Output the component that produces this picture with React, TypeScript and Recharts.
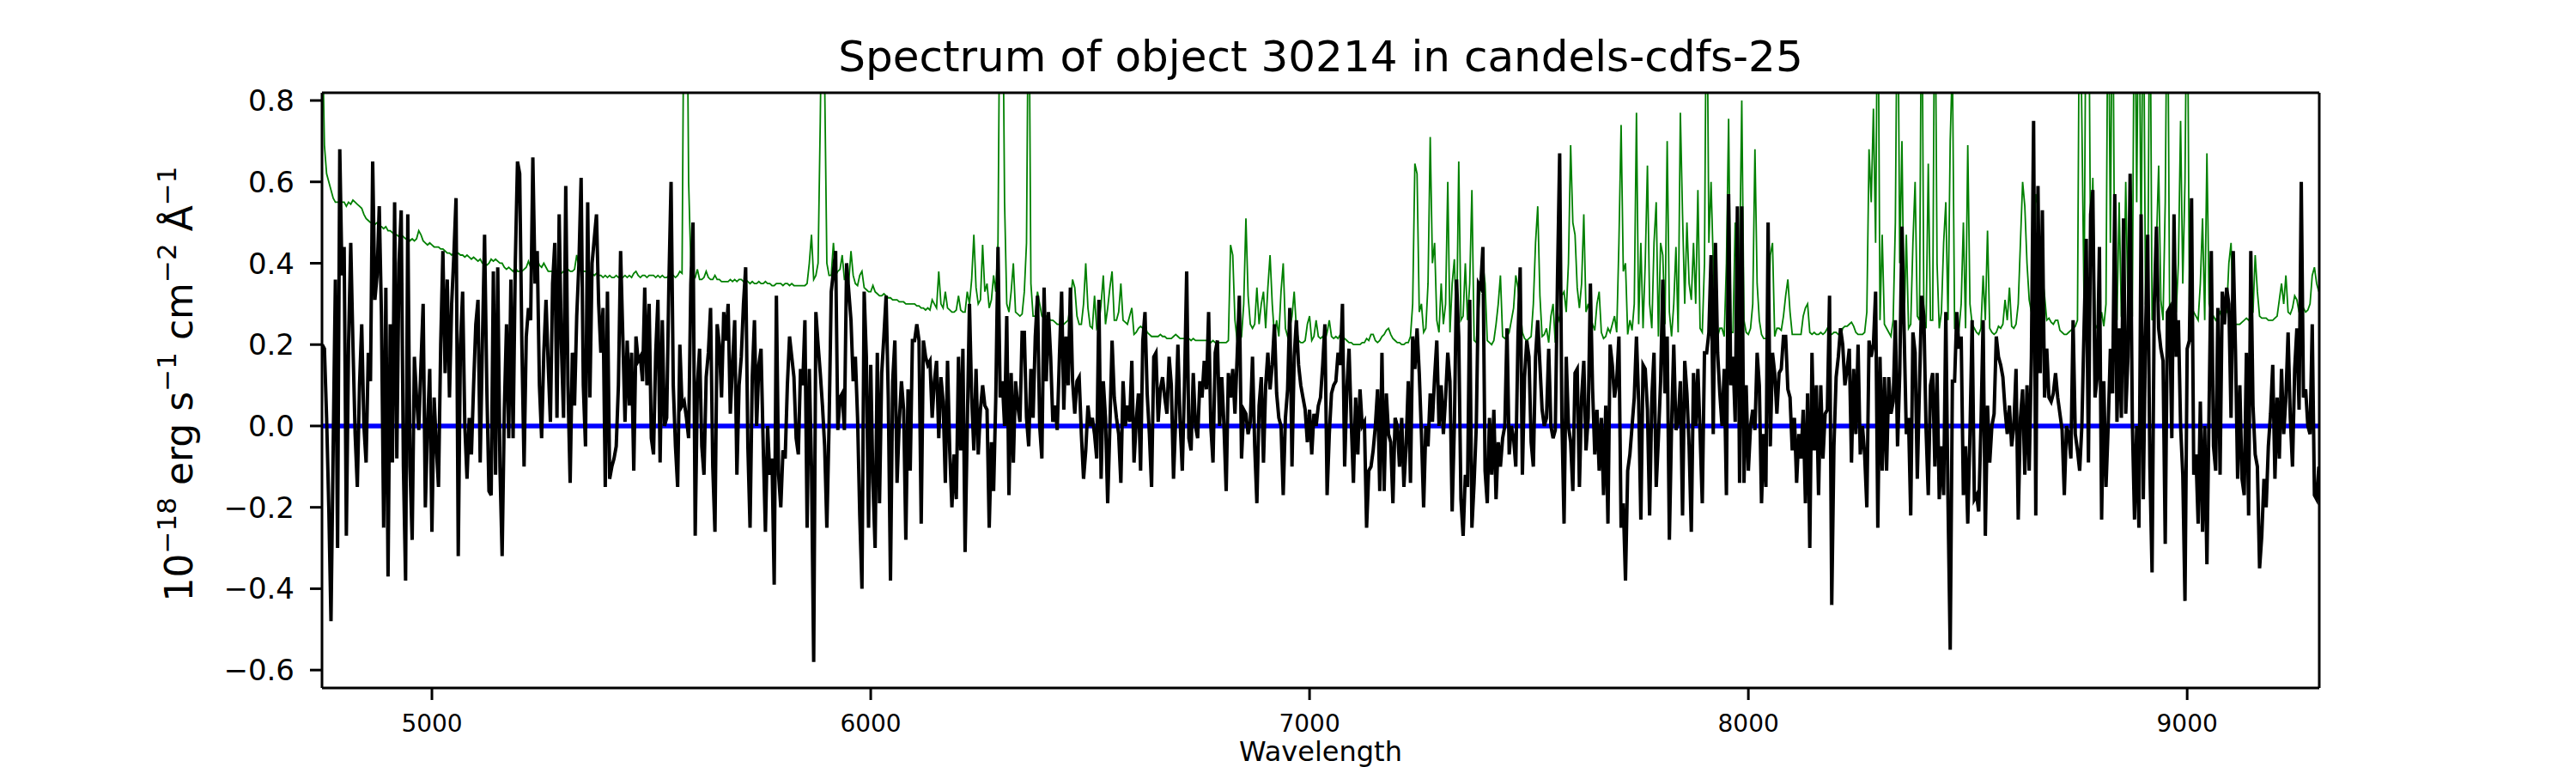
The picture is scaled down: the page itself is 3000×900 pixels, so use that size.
import { LineChart, Line, XAxis, YAxis, ReferenceLine } from 'recharts';

// spectrum is sampled on a regular grid, 5 Å per pixel from 4750 Å
const WAVE_START = 4750;
const WAVE_STEP = 5;

// observed flux, 1e-18 erg/s/cm2/Å
const FLUX = [
  0.20, 0.19, 0.02, -0.20, -0.48, -0.05, 0.36, -0.30, 0.68, 0.37,
  0.44, -0.27, 0.20, 0.45, 0.20, -0.02, -0.15, 0.10, 0.25, 0.00,
  -0.09, 0.18, 0.11, 0.65, 0.31, 0.37, 0.54, 0.27, -0.25, 0.34,
  -0.37, 0.25, -0.09, 0.55, -0.08, 0.40, 0.53, -0.10, -0.38, 0.52,
  -0.10, -0.28, 0.17, 0.07, -0.01, 0.15, 0.30, -0.20, 0.00, 0.14,
  -0.26, 0.07, -0.05, -0.15, 0.20, 0.43, 0.13, 0.36, 0.07, 0.30,
  0.42, 0.56, -0.32, 0.20, 0.33, 0.00, -0.13, 0.02, -0.07, 0.10,
  0.25, 0.31, -0.09, 0.20, 0.47, 0.10, -0.16, -0.17, 0.38, -0.12,
  0.39, -0.10, -0.32, 0.04, 0.25, -0.03, 0.36, -0.03, 0.40, 0.65,
  0.62, 0.20, -0.10, 0.22, 0.29, 0.26, 0.66, 0.35, 0.43, 0.10,
  -0.03, 0.18, 0.31, 0.15, 0.01, 0.35, 0.45, 0.02, 0.52, 0.20,
  0.02, 0.59, 0.10, -0.14, 0.18, 0.05, 0.27, 0.40, 0.61, 0.10,
  -0.05, 0.55, 0.07, 0.40, 0.46, 0.52, 0.30, 0.18, 0.29, -0.15,
  0.33, -0.13, -0.10, -0.08, -0.05, 0.10, 0.43, 0.22, 0.01, 0.21,
  0.05, 0.18, -0.11, 0.22, 0.16, 0.17, 0.11, 0.34, 0.10, 0.30,
  -0.03, -0.07, 0.18, 0.31, -0.09, 0.26, 0.00, 0.02, 0.35, 0.60,
  0.10, -0.05, -0.15, 0.20, 0.05, 0.06, 0.02, -0.03, 0.35, 0.50,
  -0.27, 0.10, 0.19, -0.05, -0.12, 0.12, 0.18, 0.29, -0.10, -0.26,
  0.25, 0.20, 0.07, 0.28, 0.21, 0.30, 0.03, 0.15, 0.26, -0.12,
  0.10, 0.17, 0.30, 0.39, -0.05, -0.25, 0.12, 0.26, 0.00, 0.15,
  0.19, -0.05, -0.26, 0.00, -0.12, -0.08, -0.39, 0.32, -0.12, -0.20,
  -0.06, -0.08, 0.10, 0.22, 0.17, 0.12, -0.03, -0.07, 0.14, 0.10,
  0.26, -0.25, 0.14, -0.10, -0.58, 0.28, 0.20, 0.13, 0.05, -0.05,
  -0.25, 0.00, 0.33,
  // 5915 Å
  0.38, 0.43, -0.01, 0.07, 0.08, -0.01, 0.40, 0.33, 0.26, 0.11,
  0.17, 0.02, -0.22, -0.40, 0.33, 0.17, -0.25, 0.15, -0.14, -0.30,
  0.18, -0.19, 0.13, 0.22, 0.32, 0.07, -0.38, 0.11, 0.21, -0.14,
  0.01, 0.11, 0.04, -0.28, 0.09, -0.11, 0.21, 0.21, 0.25, 0.21,
  -0.24, 0.21, 0.17, 0.15, 0.16, 0.02, 0.11, 0.16, -0.03, 0.12,
  0.06, -0.14, 0.16, -0.06, -0.20, -0.07, -0.18, 0.17, -0.06, 0.19,
  -0.31, 0.00, 0.30, 0.07, -0.06, 0.14, -0.07, 0.04, 0.10,
  0.05, 0.04, -0.25, -0.04, -0.16, 0.07, 0.44, 0.07, 0.11, 0.00,
  0.27, -0.17, 0.13, -0.09, 0.11, 0.05, 0.01, 0.23, 0.23, 0.02,
  -0.05, 0.14, 0.02, 0.22, 0.32, 0.00, -0.08, 0.34, 0.11, 0.28,
  0.17, 0.01, 0.05, -0.01, 0.17, 0.33, 0.04, 0.22, 0.10, 0.34,
  0.11, 0.03, 0.11, 0.12, -0.02, -0.13, -0.06, 0.05, 0.00, 0.02,
  -0.02, -0.08, 0.31, -0.13, 0.11, 0.02, -0.19, 0.00, 0.21, 0.07,
  0.02, -0.02, -0.14, 0.11, 0.00, 0.05, 0.01, 0.16, -0.09, 0.01, 0.08,
  -0.11, 0.21, 0.28, 0.08, -0.02, -0.15, 0.17, 0.18, 0.01, 0.09,
  0.12, 0.07, 0.03, 0.17, 0.10, -0.13, 0.02, 0.20, 0.01, -0.11,
  0.10, 0.38, -0.03, -0.06, 0.13, 0.00, -0.03, 0.11, 0.07, 0.16,
  0.09, 0.28, 0.00, -0.09, 0.18, 0.21, 0.00, 0.12, 0.00, -0.16,
  0.13, 0.07, 0.14, 0.03, 0.17, 0.32, -0.08, 0.04, 0.03, -0.02,
  0.01, 0.17, -0.05, -0.19, 0.05, 0.12, -0.09, 0.10, 0.18, 0.09, 0.15,
  0.25, 0.08, 0.02, 0.00, -0.17, 0.02, 0.09, 0.29, -0.10, 0.17,
  0.26, 0.15, 0.10, 0.07, 0.04, -0.04, 0.04, -0.07, 0.03, 0.00,
  0.05, 0.07, 0.15, 0.25, -0.17, -0.02, 0.08, 0.10, 0.11,
  // 7065 Å
  0.18, 0.15, 0.30, -0.10, 0.09, 0.19, 0.01, -0.14, 0.07, -0.07,
  0.09, 0.00, 0.01, -0.25, -0.11, -0.10, -0.06, 0.00, 0.09, -0.16,
  0.18, -0.16, 0.08, -0.02, -0.04, -0.19, 0.02, 0.00, -0.10, 0.02,
  -0.15, -0.05, 0.11, -0.14, 0.22, 0.14, 0.24, 0.13, -0.02, -0.20,
  0.00, -0.05, 0.08, 0.01, 0.12, 0.21, 0.00, 0.10, -0.02, 0.07,
  0.18, 0.11, -0.21, 0.00, 0.36, 0.22, -0.18, -0.27, -0.12, -0.15,
  0.31, -0.25, -0.14, 0.00, 0.35, 0.34, 0.44, -0.11, -0.19, 0.02,
  -0.12, 0.04, -0.18, -0.04, -0.10, -0.03, 0.00, 0.24, -0.07, 0.00,
  -0.03, -0.10, 0.22, 0.39, -0.12, 0.12, 0.21, 0.17, -0.04, -0.10,
  0.17, 0.26, 0.15, 0.04, 0.00, 0.02, 0.19, 0.00, -0.03, -0.01,
  0.36, 0.67, 0.02, -0.24, 0.17, 0.00, -0.04, -0.16, 0.13, 0.14,
  -0.15, 0.07, 0.16, -0.06, 0.02, 0.35, 0.09, -0.07, 0.04, -0.11,
  0.02, -0.17, 0.05, -0.24, 0.20, 0.15, 0.07, 0.11, 0.22, -0.25,
  -0.19, -0.38, -0.11, -0.07, 0.00, 0.07, 0.22, 0.06, -0.23, 0.15,
  0.14, 0.04, -0.22, 0.07, 0.18, -0.15, -0.03, 0.11, 0.36, 0.08,
  0.22, -0.28, 0.00, 0.20, -0.01, 0.01, 0.11, -0.22, 0.16, 0.08,
  -0.05, -0.26, 0.13, 0.00, 0.14, -0.02, -0.19, 0.18, 0.18, 0.23,
  0.42, -0.02, 0.45, 0.18, 0.08, 0.00, 0.14, -0.17, 0.57, 0.10,
  0.17, 0.01, 0.54, -0.14, 0.54, -0.14, 0.10, -0.11, 0.00, 0.04,
  -0.01, 0.18, 0.10, -0.19, -0.02, -0.15, 0.50, -0.05, 0.18, 0.13,
  0.03, 0.13, 0.14, 0.22, 0.22, 0.09, 0.07, -0.06, 0.02, -0.14,
  -0.02, -0.08, 0.04, -0.19, 0.08, -0.30, 0.18, -0.06, 0.10, -0.17,
  0.10, -0.08, 0.03, 0.04, 0.32, -0.44, -0.05, 0.12, 0.17, 0.24,
  // 8215 Å
  0.20, 0.10, 0.14, 0.19, -0.09, 0.14, -0.02, 0.20, -0.07, 0.00,
  -0.07, -0.20, 0.21, 0.17, 0.20, 0.33, -0.25, 0.17, -0.11, 0.12,
  -0.11, 0.12, 0.03, 0.06, 0.26, -0.05, 0.13, 0.49, 0.23, -0.02,
  0.02, -0.22, 0.23, 0.18, -0.13, 0.10, 0.32, 0.27, -0.01, -0.17,
  0.10, 0.13, -0.10, 0.13, -0.18, -0.05, -0.17, 0.28, -0.19, -0.55,
  0.11, 0.11, 0.28, 0.19, 0.22, -0.17, -0.05, -0.24, -0.02, 0.26,
  -0.18, -0.17, -0.21, 0.00, 0.26, -0.27, 0.05, -0.09, 0.00, 0.03,
  0.22, 0.17, 0.15, 0.12, 0.04, -0.02, 0.05, -0.05, 0.00, 0.14,
  -0.23, 0.02, 0.09, -0.12, 0.10, -0.11, 0.17, 0.75, -0.22, 0.59,
  0.13, 0.53, 0.07, 0.19, 0.07, 0.06, 0.08, 0.13, 0.07, 0.03,
  -0.01, -0.17, 0.00, -0.02, -0.08, 0.26, -0.02, -0.06, -0.11, 0.00,
  0.24, 0.46, -0.09, 0.52, 0.58, 0.07, 0.12, 0.44, -0.23, 0.11,
  -0.15, 0.00, 0.19, 0.08, 0.57, 0.01, 0.24, 0.02, 0.51, 0.03,
  0.17, 0.62, 0.01, -0.23, 0.00, -0.25, 0.52, -0.18, 0.22, 0.47,
  -0.10, -0.36, 0.30, 0.49, 0.24, 0.19, 0.16, -0.29, 0.28, 0.29,
  -0.03, 0.52, 0.17, 0.26, 0.00, -0.12, -0.43, 0.19, 0.21, 0.56,
  -0.12, -0.07, -0.24, 0.06, -0.26, 0.00, -0.34, 0.05, 0.43, -0.05,
  -0.11, 0.29, -0.12, 0.33, 0.25, 0.34, 0.30, 0.02, 0.43, 0.19,
  -0.13, 0.10, -0.13, -0.17, 0.18, -0.22, 0.43, 0.05, -0.07, -0.10,
  -0.35, -0.27, -0.13, -0.20, -0.05, 0.03, 0.15, -0.13, 0.07, -0.08,
  0.14, -0.02, 0.07, 0.23, 0.02, -0.10, 0.14, 0.24, 0.04, 0.60,
  0.07, 0.09, 0.00, -0.02, 0.25, -0.17, -0.18, -0.10,
];

// sky / noise spectrum (green), same grid
const SKY = [
  1.00, 0.69, 0.62, 0.60, 0.58, 0.56, 0.55, 0.55, 0.55, 0.55,
  0.55, 0.54, 0.55, 0.545, 0.555, 0.55, 0.545, 0.54, 0.535, 0.52,
  0.51, 0.505, 0.50, 0.50, 0.495, 0.50, 0.49, 0.49, 0.485, 0.49,
  0.48, 0.48, 0.475, 0.47, 0.47, 0.465, 0.47, 0.465, 0.46, 0.465,
  0.455, 0.46, 0.455, 0.46, 0.48, 0.47, 0.455, 0.45, 0.445, 0.45,
  0.445, 0.44, 0.44, 0.44, 0.435, 0.435, 0.43, 0.425, 0.425, 0.42,
  0.425, 0.42, 0.425, 0.42, 0.42, 0.415, 0.42, 0.415, 0.41, 0.415,
  0.41, 0.405, 0.41, 0.40, 0.40, 0.395, 0.40, 0.41, 0.405, 0.41,
  0.405, 0.40, 0.40, 0.39, 0.385, 0.39, 0.385, 0.38, 0.39, 0.38,
  0.38, 0.38, 0.385, 0.39, 0.405, 0.39, 0.40, 0.385, 0.41, 0.395,
  0.39, 0.40, 0.39, 0.38, 0.38, 0.38, 0.38, 0.375, 0.38, 0.375,
  0.38, 0.38, 0.385, 0.38, 0.38, 0.385, 0.42, 0.39, 0.38, 0.38,
  0.38, 0.375, 0.375, 0.375, 0.37, 0.375, 0.37, 0.37, 0.365, 0.37,
  0.365, 0.37, 0.365, 0.365, 0.37, 0.365, 0.37, 0.365, 0.37, 0.365,
  0.37, 0.365, 0.375, 0.38, 0.37, 0.365, 0.37, 0.37, 0.365, 0.37,
  0.37, 0.37, 0.365, 0.37, 0.365, 0.37, 0.365, 0.365, 0.37, 0.365,
  0.37, 0.365, 0.37, 0.38, 0.375, 1.20, 1.30, 0.60, 0.40, 0.37,
  0.365, 0.385, 0.36, 0.36, 0.365, 0.38, 0.365, 0.36, 0.36, 0.37,
  0.36, 0.36, 0.355, 0.355, 0.355, 0.355, 0.36, 0.355, 0.36, 0.355,
  0.36, 0.36, 0.355, 0.36, 0.355, 0.35, 0.355, 0.35, 0.35, 0.355,
  0.35, 0.35, 0.355, 0.35, 0.35, 0.345, 0.345, 0.35, 0.35, 0.35,
  0.345, 0.35, 0.35, 0.345, 0.35, 0.345, 0.345, 0.345, 0.345, 0.345,
  0.345, 0.35, 0.40, 0.47, 0.36, 0.37, 0.40, 0.75, 1.20, 0.85,
  0.40, 0.37, 0.37,
  // 5915 Å
  0.45, 0.37, 0.38, 0.385, 0.42, 0.36, 0.36, 0.355, 0.43, 0.37,
  0.35, 0.345, 0.37, 0.38, 0.34, 0.335, 0.33, 0.33, 0.345, 0.33,
  0.325, 0.32, 0.32, 0.325, 0.32, 0.315, 0.315, 0.31, 0.31, 0.31,
  0.305, 0.305, 0.305, 0.30, 0.30, 0.30, 0.30, 0.30, 0.295, 0.295,
  0.29, 0.29, 0.285, 0.29, 0.285, 0.31, 0.30, 0.29, 0.38, 0.30,
  0.29, 0.33, 0.29, 0.285, 0.28, 0.28, 0.285, 0.32, 0.285, 0.28,
  0.28, 0.33, 0.30, 0.36, 0.47, 0.34, 0.30, 0.31, 0.445, 0.33,
  0.35, 0.29, 0.31, 0.37, 0.33, 0.45, 1.20, 1.20, 0.55, 0.30,
  0.28, 0.33, 0.40, 0.28, 0.275, 0.27, 0.275, 0.33, 0.45, 1.20,
  0.35, 0.27, 0.27, 0.33, 0.30, 0.27, 0.265, 0.27, 0.265, 0.26,
  0.26, 0.255, 0.25, 0.25, 0.25, 0.25, 0.255, 0.26, 0.30, 0.36,
  0.34, 0.27, 0.25, 0.25, 0.30, 0.40, 0.29, 0.245, 0.24, 0.32,
  0.24, 0.25, 0.30, 0.37, 0.25, 0.29, 0.34, 0.38, 0.26, 0.26,
  0.28, 0.35, 0.26, 0.255, 0.25, 0.27, 0.29, 0.225, 0.23, 0.24,
  0.245, 0.24, 0.245, 0.23, 0.225, 0.22, 0.22, 0.22, 0.22, 0.225,
  0.22, 0.22, 0.215, 0.215, 0.215, 0.22, 0.225, 0.22, 0.215, 0.215,
  0.215, 0.21, 0.215, 0.21, 0.215, 0.21, 0.21, 0.21, 0.21, 0.21,
  0.21, 0.21, 0.205, 0.21, 0.205, 0.205, 0.205, 0.205, 0.205, 0.205,
  0.21, 0.445, 0.42, 0.26, 0.21, 0.205, 0.22, 0.30, 0.51, 0.32,
  0.25, 0.24, 0.25, 0.34, 0.25, 0.30, 0.33, 0.24, 0.34, 0.42,
  0.30, 0.22, 0.26, 0.22, 0.33, 0.40, 0.24, 0.22, 0.24, 0.27,
  0.33, 0.24, 0.21, 0.205, 0.205, 0.21, 0.25, 0.27, 0.21, 0.22,
  0.26, 0.22, 0.215, 0.22, 0.21, 0.23, 0.26, 0.22, 0.215, 0.22,
  // 7065 Å
  0.215, 0.225, 0.22, 0.215, 0.21, 0.205, 0.205, 0.20, 0.20, 0.20,
  0.20, 0.205, 0.205, 0.215, 0.21, 0.225, 0.225, 0.21, 0.205, 0.21,
  0.22, 0.225, 0.235, 0.24, 0.225, 0.215, 0.21, 0.205, 0.205, 0.20,
  0.20, 0.205, 0.205, 0.22, 0.30, 0.645, 0.62, 0.28, 0.30, 0.23,
  0.24, 0.35, 0.71, 0.40, 0.45, 0.26, 0.23, 0.35, 0.25, 0.30,
  0.60, 0.23, 0.35, 0.41, 0.23, 0.65, 0.26, 0.27, 0.40, 0.26,
  0.35, 0.58, 0.21, 0.205, 0.28, 0.36, 0.40, 0.35, 0.21, 0.205,
  0.20, 0.21, 0.25, 0.30, 0.37, 0.22, 0.215, 0.22, 0.23, 0.26,
  0.29, 0.37, 0.34, 0.29, 0.23, 0.215, 0.21, 0.215, 0.22, 0.30,
  0.45, 0.54, 0.32, 0.22, 0.225, 0.24, 0.205, 0.27, 0.30, 0.205,
  0.25, 0.27, 0.32, 0.33, 0.28, 0.40, 0.69, 0.50, 0.47, 0.34,
  0.29, 0.35, 0.52, 0.28, 0.30, 0.27, 0.25, 0.235, 0.30, 0.33,
  0.23, 0.215, 0.22, 0.24, 0.23, 0.25, 0.27, 0.23, 0.45, 0.74,
  0.38, 0.40, 0.225, 0.26, 0.235, 0.30, 0.77, 0.25, 0.45, 0.24,
  0.40, 0.64, 0.30, 0.24, 0.45, 0.55, 0.22, 0.45, 0.42, 0.25,
  0.70, 0.28, 0.22, 0.30, 0.44, 0.23, 0.77, 0.52, 0.30, 0.50,
  0.35, 0.31, 0.45, 0.30, 0.58, 0.24, 0.23, 0.40, 1.20, 0.45,
  0.60, 0.40, 0.24, 0.22, 0.24, 0.24, 0.22, 0.40, 0.755, 0.23,
  0.23, 0.50, 0.30, 0.40, 0.80, 0.26, 0.23, 0.225, 0.24, 0.30,
  0.68, 0.35, 0.26, 0.225, 0.215, 0.215, 0.23, 0.42, 0.45, 0.22,
  0.24, 0.24, 0.235, 0.27, 0.32, 0.36, 0.28, 0.225, 0.225, 0.225,
  0.225, 0.225, 0.27, 0.29, 0.30, 0.23, 0.225, 0.23, 0.225, 0.225,
  0.23, 0.225, 0.23, 0.24, 0.225, 0.225, 0.23, 0.23, 0.225, 0.22,
  // 8215 Å
  0.24, 0.245, 0.245, 0.25, 0.255, 0.245, 0.23, 0.225, 0.225, 0.225,
  0.23, 0.28, 0.68, 0.55, 0.78, 0.45, 1.20, 0.26, 0.47, 0.25,
  0.24, 0.23, 0.22, 0.26, 0.50, 1.20, 0.40, 0.70, 0.25, 0.47,
  0.24, 0.25, 0.45, 0.60, 0.27, 0.26, 1.20, 0.26, 0.24, 0.645,
  0.26, 0.26, 1.20, 0.40, 0.24, 0.28, 0.45, 0.55, 0.26, 0.70,
  0.90, 0.24, 0.24, 0.235, 0.30, 0.50, 0.24, 0.69, 0.30, 0.25,
  0.24, 0.23, 0.225, 0.24, 0.37, 0.26, 0.48, 0.24, 0.23, 0.225,
  0.23, 0.245, 0.24, 0.25, 0.31, 0.26, 0.34, 0.245, 0.24, 0.25,
  0.30, 0.45, 0.60, 0.54, 0.40, 0.31, 0.28, 0.35, 0.57, 0.54,
  0.40, 0.37, 0.32, 0.26, 0.265, 0.255, 0.25, 0.26, 0.26, 0.235,
  0.23, 0.225, 0.225, 0.23, 0.235, 0.24, 0.245, 0.26, 1.20, 0.75,
  0.30, 1.20, 1.20, 0.40, 0.61, 0.25, 0.24, 0.245, 0.28, 0.245,
  0.30, 1.20, 0.45, 1.20, 0.30, 0.26, 0.55, 0.27, 0.245, 0.60,
  0.30, 0.25, 0.27, 1.20, 0.55, 1.20, 0.40, 1.20, 0.30, 0.27,
  1.20, 0.26, 0.27, 0.45, 0.64, 0.31, 0.26, 0.55, 1.20, 0.28,
  0.30, 0.27, 0.28, 0.40, 0.75, 0.35, 0.60, 1.20, 0.31, 0.26,
  0.28, 0.27, 0.26, 0.35, 0.51, 0.26, 0.67, 0.30, 0.28, 0.27,
  0.26, 0.27, 0.28, 0.26, 0.27, 0.28, 0.40, 0.45, 0.26, 0.25,
  0.25, 0.25, 0.255, 0.26, 0.265, 0.26, 0.27, 0.28, 0.42, 0.33,
  0.27, 0.265, 0.265, 0.265, 0.26, 0.26, 0.26, 0.265, 0.27, 0.31,
  0.35, 0.30, 0.37, 0.28, 0.275, 0.29, 0.32, 0.31, 0.28, 0.275,
  0.29, 0.28, 0.285, 0.30, 0.37, 0.39, 0.35, 0.33,
];

// fitted continuum (blue), flat at zero
const MODEL_WAVE = [4750, 9300];
const MODEL_FLUX = [0, 0];

const X_TICKS = [5000, 6000, 7000, 8000, 9000];
const Y_TICKS = [-0.6, -0.4, -0.2, 0, 0.2, 0.4, 0.6, 0.8];
const X_DOMAIN = [4749.5, 9301];
const Y_DOMAIN = [-0.644, 0.819];

const FONT = '"DejaVu Sans", Verdana, sans-serif';
const AXIS_LINE = { stroke: '#000', strokeWidth: 3 };

const fluxData = FLUX.map((v, i) => ({ wave: WAVE_START + i * WAVE_STEP, flux: v }));
const skyData = SKY.map((v, i) => ({ wave: WAVE_START + i * WAVE_STEP, sky: v }));
const modelData = MODEL_WAVE.map((w, i) => ({ wave: w, model: MODEL_FLUX[i] }));

const fmtY = (v: number) => v.toFixed(1).replace('-', '\u2212');

// title + x label, absolute positions in the 3000x900 canvas
const renderXLabels = () => (
  <g fontFamily={FONT} fill="#000">
    <text x={1538} y={83} textAnchor="middle" fontSize={50}>
      Spectrum of object 30214 in candels-cdfs-25
    </text>
    <text x={1538} y={886} textAnchor="middle" fontSize={32}>
      Wavelength
    </text>
  </g>
);

// 10^-18 erg s^-1 cm^-2 Å^-1
const renderYLabel = () => {
  const sup = { fontSize: 31 };
  return (
    <text
      transform="translate(224 447) rotate(-90)"
      textAnchor="middle"
      fontFamily={FONT}
      fontSize={44}
      fill="#000"
    >
      <tspan>10</tspan>
      <tspan {...sup} dy={-19}>{'\u221218'}</tspan>
      <tspan dy={19}>{' erg s'}</tspan>
      <tspan {...sup} dy={-19}>{'\u22121'}</tspan>
      <tspan dy={19}>{' cm'}</tspan>
      <tspan {...sup} dy={-19}>{'\u22122'}</tspan>
      <tspan dy={19}>{' \u00c5'}</tspan>
      <tspan {...sup} dy={-19}>{'\u22121'}</tspan>
    </text>
  );
};

export default function App() {
  return (
    <div style={{ width: 3000, height: 900, background: '#fff' }}>
      <style>{'body { margin: 0; }'}</style>
      <LineChart width={3000} height={900} margin={{ top: 108, right: 299, bottom: 39, left: 275 }}>
        <XAxis
          dataKey="wave"
          type="number"
          domain={X_DOMAIN}
          allowDataOverflow
          ticks={X_TICKS}
          interval={0}
          height={60}
          tickSize={14}
          tickMargin={17}
          axisLine={AXIS_LINE}
          tickLine={AXIS_LINE}
          tick={{ fill: '#000', fontSize: 28, fontFamily: FONT }}
          label={renderXLabels}
        />
        <YAxis
          type="number"
          domain={Y_DOMAIN}
          allowDataOverflow
          ticks={Y_TICKS}
          interval={0}
          width={100}
          tickSize={14}
          tickMargin={18}
          tickFormatter={fmtY}
          axisLine={AXIS_LINE}
          tickLine={AXIS_LINE}
          tick={{ fill: '#000', fontSize: 34, fontFamily: FONT }}
          label={renderYLabel}
        />

        <Line data={modelData} dataKey="model" type="linear" stroke="#0000ff" strokeWidth={5.5}
          dot={false} activeDot={false} isAnimationActive={false} />
        <Line data={skyData} dataKey="sky" type="linear" stroke="#008000" strokeWidth={1.8}
          dot={false} activeDot={false} isAnimationActive={false} />
        <Line data={fluxData} dataKey="flux" type="linear" stroke="#000" strokeWidth={4}
          dot={false} activeDot={false} isAnimationActive={false} />

        {/* top and right spines */}
        <ReferenceLine y={Y_DOMAIN[1]} stroke="#000" strokeWidth={3} />
        <ReferenceLine x={X_DOMAIN[1]} stroke="#000" strokeWidth={3} />
      </LineChart>
    </div>
  );
}
